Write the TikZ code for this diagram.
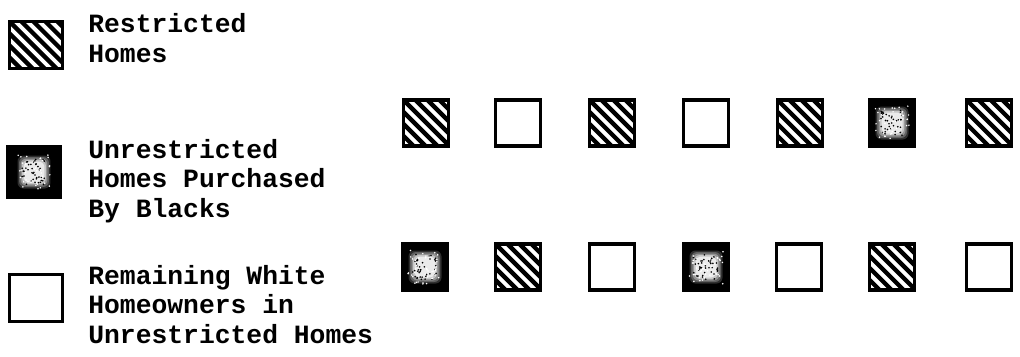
\documentclass[tikz,border=0pt]{standalone}
\usepackage{fontspec}
\setmainfont{Liberation Mono}
\usetikzlibrary{positioning,calc}

\begin{document}
\begin{tikzpicture}[
    x=0.02cm, y=-0.02cm,
    node distance=0.9cm,
    home/.style={
        rectangle, draw=black, line width=0.075cm,
        minimum width=0.9cm, minimum height=0.92cm,
        inner sep=0pt
    },
    restricted/.style={
        home,
        path picture={
            \foreach \k in {-6,...,6}
                \draw[line width=0.085cm]
                    ([xshift=\k*0.24cm]path picture bounding box.north west) -- ++(1.3cm,-1.3cm);
        }
    },
    purchased/.style={
        home, fill=black,
        path picture={
            \foreach \s/\g in {0.33/82,0.30/62,0.27/42,0.24/22,0.21/8}
                \fill[black!\g, rounded corners=0.12cm]
                    ([shift={(-\s cm,-\s cm)}]path picture bounding box.center)
                    rectangle ([shift={(\s cm,\s cm)}]path picture bounding box.center);
            \foreach \d in {1,...,40}
                \fill[black] ($(path picture bounding box.center)+(rand*0.25cm,rand*0.25cm)$) circle (0.018cm);
            \foreach \d in {1,...,40}
                \fill[white] ($(path picture bounding box.center)+(rand*0.34cm,rand*0.34cm)$) circle (0.017cm);
        }
    },
    remaining/.style={home},
    keybox/.style={minimum width=1.06cm, minimum height=0.94cm},
    keytext/.style={
        anchor=base west, inner sep=0pt, align=left,
        font=\fontsize{15}{16.6}\selectfont\bfseries
    }
]
\pgfmathsetseed{7}
\useasboundingbox (0,0) rectangle (1020,356);

% legend (text nodes sit on their last baseline)
\node[restricted, keybox] (keyrestricted) at (36,45) {};
\node[keytext] (textrestricted) at (88,62) {Restricted\\Homes};

\node[purchased, keybox, minimum height=1.02cm] (keypurchased) at (34,172) {};
\node[keytext] (textpurchased) at (88,217) {Unrestricted\\Homes Purchased\\By Blacks};

\node[remaining, keybox] (keyremaining) at (36,298) {};
\node[keytext] (textremaining) at (88,343) {Remaining White\\Homeowners in\\Unrestricted Homes};

% upper row of homes
\node[restricted] (upperA) at (426,123) {};
\node[remaining]  (upperB) at (518,123) {};
\node[restricted] (upperC) at (612,123) {};
\node[remaining]  (upperD) at (706,123) {};
\node[restricted] (upperE) at (800,123) {};
\node[purchased]  (upperF) at (892,123) {};
\node[restricted] (upperG) at (989,123) {};

% lower row of homes
\node[purchased]  (lowerA) at (425,267) {};
\node[restricted] (lowerB) at (518,267) {};
\node[remaining]  (lowerC) at (612,267) {};
\node[purchased]  (lowerD) at (706,267) {};
\node[remaining]  (lowerE) at (799,267) {};
\node[restricted] (lowerF) at (892,267) {};
\node[remaining]  (lowerG) at (989,267) {};

\end{tikzpicture}
\end{document}
